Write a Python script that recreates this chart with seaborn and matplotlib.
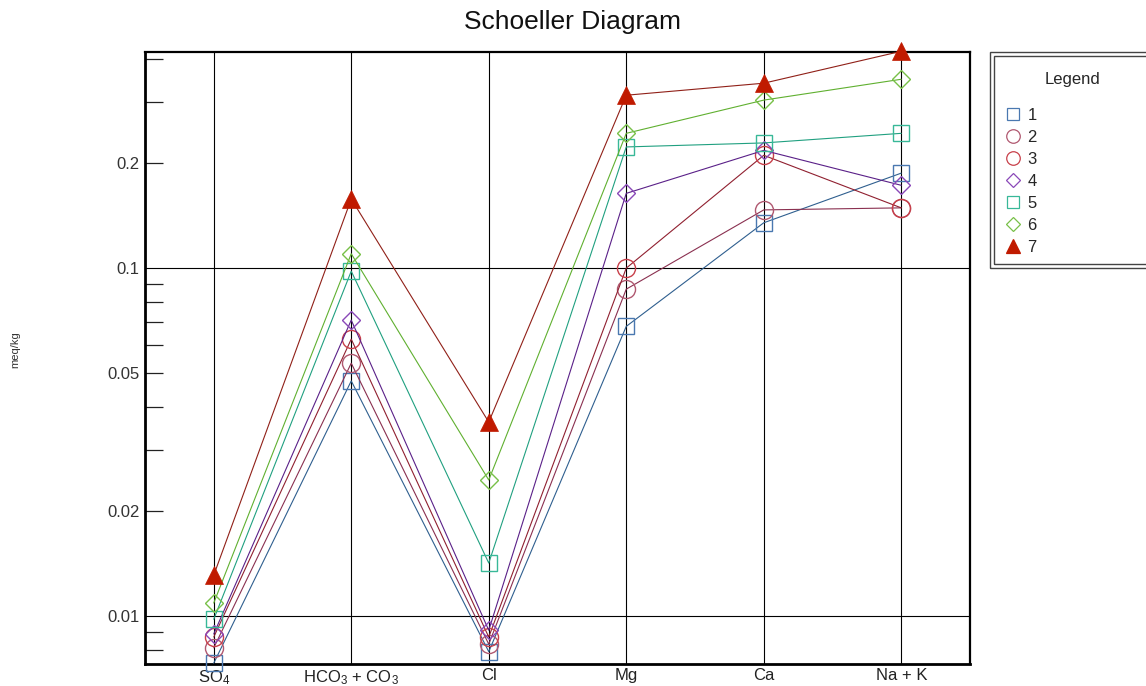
import matplotlib
matplotlib.use("Agg")
import matplotlib.pyplot as plt
from matplotlib.lines import Line2D
from matplotlib.patches import Rectangle
from matplotlib.ticker import FixedLocator, FuncFormatter
import numpy as np
import pandas as pd
import seaborn as sns

# ion groups along the x axis
ions = ['SO$_4$', 'HCO$_3$ + CO$_3$', 'Cl', 'Mg', 'Ca', 'Na + K']

# meq/kg per sample
s1 = [0.00732, 0.0474, 0.0079, 0.068, 0.135, 0.1875]
s2 = [0.0081, 0.0533, 0.0083, 0.087, 0.147, 0.149]
s3 = [0.0087, 0.0625, 0.0087, 0.100, 0.211, 0.149]
s4 = [0.00888, 0.0709, 0.0091, 0.164, 0.218, 0.173]
s5 = [0.00979, 0.098, 0.0142, 0.223, 0.229, 0.244]
s6 = [0.0109, 0.110, 0.0246, 0.244, 0.304, 0.349]
s7 = [0.0131, 0.158, 0.0361, 0.314, 0.340, 0.420]

sample_names = ['1', '2', '3', '4', '5', '6', '7']
samples = [s1, s2, s3, s4, s5, s6, s7]

# y axis ticks
grid_ticks = [0.01, 0.1]
minor_ticks = [0.008, 0.009, 0.02, 0.03, 0.04, 0.05, 0.06, 0.07, 0.08, 0.09,
               0.2, 0.3, 0.4]
labelled_minor = [0.02, 0.05, 0.2]

# marker, filled?, marker colour, line colour
styles = [
    ('s', False, '#4a78b0', '#2f5f8f'),
    ('o', False, '#b05870', '#8a3050'),
    ('o', False, '#c8404a', '#902030'),
    ('D', False, '#8a48b8', '#5a2088'),
    ('s', False, '#38b898', '#20a080'),
    ('D', False, '#78c048', '#60b030'),
    ('^', True, '#c01a00', '#902018'),
]
msizes = {'s': 11, 'o': 13, 'D': 9.5, '^': 13}

sns.set_theme(style='white')
plt.rcParams['font.family'] = ['Liberation Sans', 'DejaVu Sans']
plt.rcParams['mathtext.default'] = 'regular'

fig = plt.figure(figsize=(11.46, 6.86), dpi=100)
ax = fig.add_axes([145 / 1146, 1 - 664 / 686, 825 / 1146, 612 / 686])

x = np.arange(len(ions))
handles = []
for name, vals, (mk, filled, mcol, lcol) in zip(sample_names, samples, styles):
    df = pd.DataFrame({'x': x, 'y': vals})
    sns.lineplot(data=df, x='x', y='y', ax=ax, color=lcol, lw=0.8,
                 marker=mk, ms=msizes[mk], mec=mcol,
                 mfc=mcol if filled else 'none', mew=1.0 if not filled else 0.5,
                 clip_on=False, zorder=3, legend=False)
    handles.append(Line2D([], [], ls='none', marker=mk, ms=msizes[mk] * 0.75,
                          mec=mcol, mfc=mcol if filled else 'none', mew=0.9))

ax.set_yscale('log')
ax.set_ylim(0.00728, 0.418)
ax.set_xlim(-0.5, len(ions) - 0.5)

ax.set_xticks(x)
ax.set_xticklabels(ions, fontsize=12)
ax.tick_params(axis='x', length=0, pad=3, colors='#222222')

ax.yaxis.set_major_locator(FixedLocator(grid_ticks))
ax.yaxis.set_minor_locator(FixedLocator(minor_ticks))
ax.yaxis.set_major_formatter(FuncFormatter(lambda v, p: f'{v:g}'))
ax.yaxis.set_minor_formatter(
    FuncFormatter(lambda v, p: f'{v:g}' if any(abs(v - t) < 1e-9 for t in labelled_minor) else ''))
ax.tick_params(axis='y', which='both', left=True, direction='in', length=13, width=0.9,
               color='#222222', labelsize=12, pad=4, labelcolor='#333333')
ax.tick_params(axis='y', which='major', length=0)

ax.grid(False)
for xv in x:
    ax.axvline(xv, color='black', lw=0.8, zorder=1)
for yv in grid_ticks:
    ax.axhline(yv, color='black', lw=0.8, zorder=1)

for side in ['left', 'bottom']:
    ax.spines[side].set_linewidth(2.0)
for side in ['top', 'right']:
    ax.spines[side].set_linewidth(1.6)
for s in ax.spines.values():
    s.set_color('black')

ax.set_xlabel('')
ax.set_ylabel('meq/kg', fontsize=8, color='#333333')
ax.yaxis.set_label_coords(-0.151, 0.513)

fig.text(572 / 1146, 1 - 22 / 686, 'Schoeller Diagram', ha='center', va='center',
         fontsize=19, color='#111111')

# legend box with double border
fig.patches.append(Rectangle((990 / 1146, 1 - 268 / 686), 170 / 1146, 216 / 686,
                             transform=fig.transFigure, fill=False, ec='#444444', lw=1.0))
fig.patches.append(Rectangle((994 / 1146, 1 - 264 / 686), 170 / 1146, 208 / 686,
                             transform=fig.transFigure, fill=False, ec='#444444', lw=1.0))
leg = ax.legend(handles, sample_names, title='Legend', loc='upper left',
                bbox_to_anchor=(990 / 1146, 1 - 55 / 686, 164 / 1146, 0),
                bbox_transform=fig.transFigure, mode='expand', frameon=False,
                fontsize=12, title_fontsize=12, borderaxespad=0, borderpad=1.0,
                handlelength=0.8, handletextpad=0.45, labelspacing=0.42)
leg._legend_box.sep = 15

fig.savefig('out.png', dpi=100)
